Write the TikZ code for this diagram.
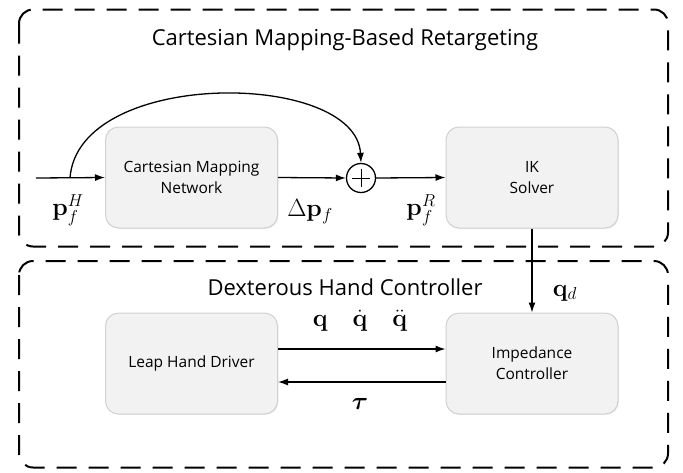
\documentclass[tikz,border=0pt]{standalone}
\usepackage{amsmath,bm}
\usepackage[no-math]{fontspec}
\setmainfont{Open Sans}
\usetikzlibrary{arrows.meta,shadows,calc}
\begin{document}
\begin{tikzpicture}[x=1pt,y=-1pt,
  group/.style={draw=black,line width=2pt,dash pattern=on 20pt off 12pt,rounded corners=14pt},
  block/.style={draw=black!18,fill=black!5,line width=1pt,rounded corners=13pt,
    minimum width=172pt,minimum height=101pt,align=center,
    font=\fontsize{15.5}{21}\selectfont,
    drop shadow={shadow xshift=0.8pt,shadow yshift=-0.8pt,opacity=0.25,fill=black!40}},
  sumnode/.style={circle,draw=black,line width=1.3pt,minimum size=29pt,inner sep=0pt},
  conn/.style={line width=1.3pt,-{Latex[length=10pt,width=7pt]}},
  title/.style={font=\fontsize{22}{26}\selectfont},
  mlabel/.style={font=\fontsize{25}{28}\selectfont,inner sep=0pt}
]
\useasboundingbox (0,0) rectangle (683,472);
% groups
\draw[group] (19,9.5) rectangle (668,246.5);
\draw[group] (19,261) rectangle (668,467.5);
\node[title] (t1) at (345,40) {Cartesian Mapping-Based Retargeting};
\node[title] (t2) at (345,287) {Dexterous Hand Controller};
% blocks
\node[block] (cmn) at (191.5,177.5) {Cartesian Mapping\\Network};
\node[block] (ik) at (532,177.5) {IK\\Solver};
\node[block] (leap) at (191.5,363.5) {Leap Hand Driver};
\node[block] (imp) at (532,363.5) {Impedance\\Controller};
\node[sumnode] (sum) at (361,178) {};
\draw[line width=1pt] ($(sum.center)+(-9,0)$) -- ($(sum.center)+(9,0)$);
\draw[line width=1pt] ($(sum.center)+(0,-9)$) -- ($(sum.center)+(0,9)$);
% connectors
\coordinate (in) at (36,178);
\coordinate (br) at (70,178);
\draw[conn] (in) -- (cmn.west);
\draw[conn] (br) .. controls (78,68) and (356,70) .. (sum.north);
\draw[conn] (cmn.east) -- (sum.west);
\draw[conn] (sum.east) -- (ik.west);
\draw[conn] (ik.south) -- (imp.north);
\draw[conn] ([yshift=14.5pt]leap.east) -- ([yshift=14.5pt]imp.west);
\draw[conn] ([yshift=-18.5pt]imp.west) -- ([yshift=-18.5pt]leap.east);
% labels
\node[mlabel] (lph) at (68,210) {$\mathbf{p}_f^H$};
\node[mlabel] (ldp) at (310,212) {$\Delta\mathbf{p}_f$};
\node[mlabel] (lpr) at (421,210) {$\mathbf{p}_f^R$};
\node[mlabel] (lqd) at (565,293) {$\mathbf{q}_d$};
\node[mlabel] (lq) at (360,321) {$\mathbf{q}\quad\dot{\mathbf{q}}\quad\ddot{\mathbf{q}}$};
\node[mlabel] (ltau) at (360,404) {$\bm{\tau}$};
\end{tikzpicture}
\end{document}
